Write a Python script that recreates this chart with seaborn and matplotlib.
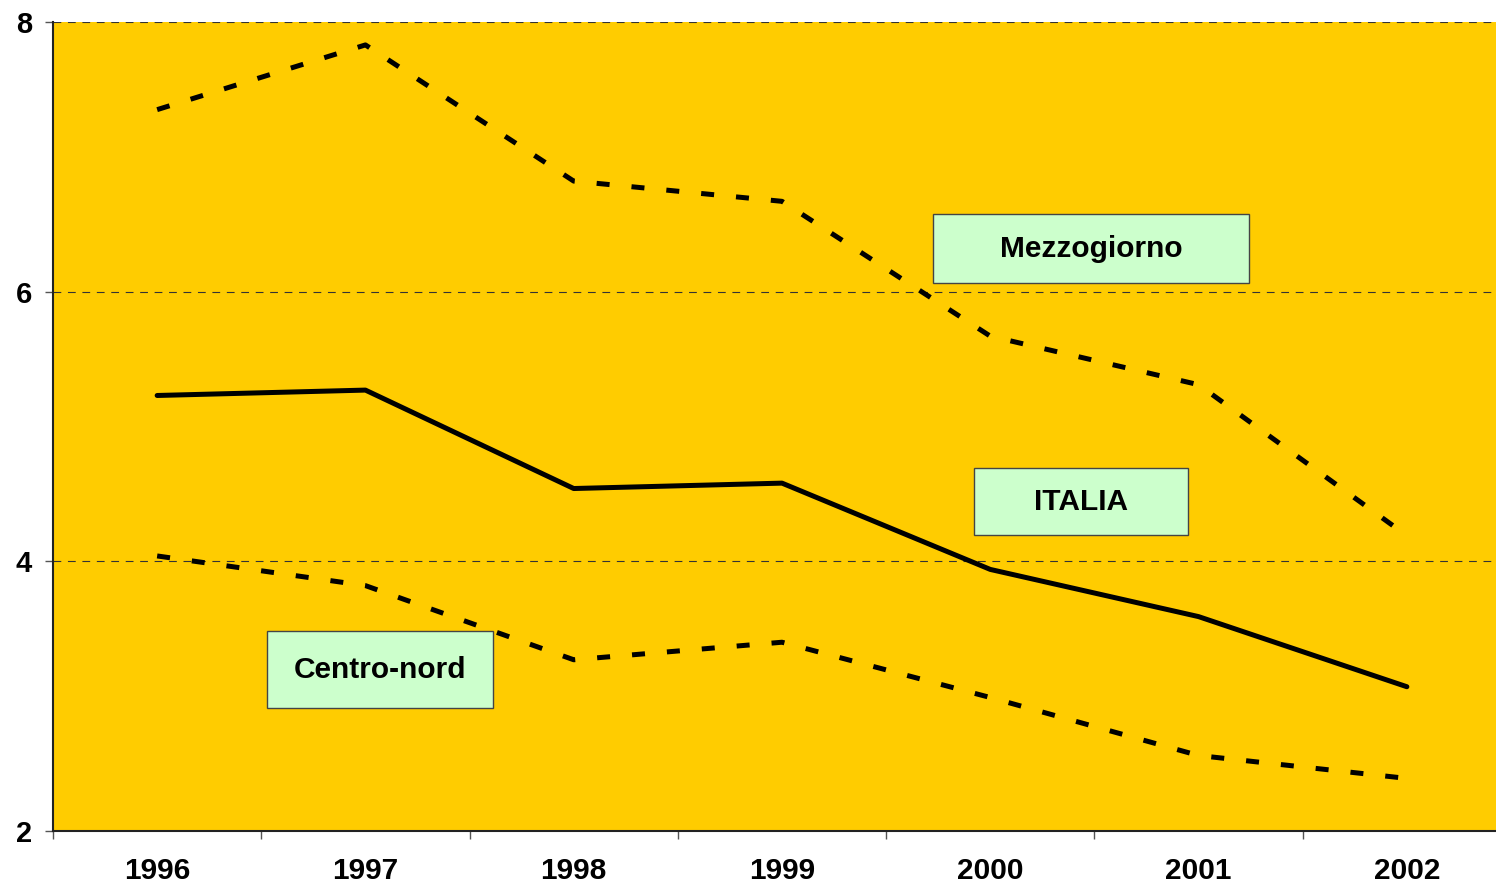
import numpy as np
import pandas as pd
import matplotlib
matplotlib.use("Agg")
import matplotlib.pyplot as plt
from matplotlib.patches import Rectangle
from matplotlib.ticker import FixedLocator
import seaborn as sns

# Data
years = ["1996", "1997", "1998", "1999", "2000", "2001", "2002"]
mezzogiorno = [7.35, 7.83, 6.82, 6.67, 5.67, 5.31, 4.19]
italia = [5.23, 5.27, 4.54, 4.58, 3.94, 3.59, 3.07]
centro_nord = [4.04, 3.82, 3.27, 3.40, 2.99, 2.56, 2.39]
series_names = ["Mezzogiorno", "ITALIA", "Centro-nord"]

df = pd.DataFrame({
    "x": list(range(len(years))) * 3,
    "value": mezzogiorno + italia + centro_nord,
    "serie": sum([[n] * len(years) for n in series_names], []),
})

sns.set_style("white")
plt.rcParams["font.family"] = ["Liberation Sans", "DejaVu Sans"]
plt.rcParams["text.color"] = "black"
plt.rcParams["xtick.color"] = "black"
plt.rcParams["ytick.color"] = "black"

fig = plt.figure(figsize=(14.96, 8.86), dpi=100)
ax = fig.add_axes([53 / 1496, 55 / 886, (1511 - 53) / 1496, 809 / 886])
ax.set_facecolor("#FFCC00")

# dashed horizontal gridlines
for yv in [4, 6, 8]:
    ax.axhline(yv, color="#333333", lw=0.8, linestyle=(0, (7, 6)), zorder=1)

sns.lineplot(
    data=df, x="x", y="value", style="serie", hue="serie",
    palette={n: "black" for n in series_names},
    dashes={"Mezzogiorno": (2.6, 4.4), "ITALIA": "", "Centro-nord": (2.6, 4.4)},
    linewidth=3.6, legend=False, ax=ax, zorder=3,
)
for line in ax.get_lines():
    line.set_solid_capstyle("round")

ax.set_xlim(-0.5, 6.5)
ax.set_ylim(2, 8)
ax.set_xlabel("")
ax.set_ylabel("")

ax.set_yticks([2, 4, 6, 8])
ax.set_yticklabels(["2", "4", "6", "8"], fontsize=21, fontweight="bold")
ax.tick_params(axis="y", direction="out", length=6, width=1, color="#555555",
               labelcolor="black", pad=9, left=True)

ax.set_xticks(range(len(years)))
ax.set_xticklabels(years, fontsize=21.5, fontweight="bold")
ax.tick_params(axis="x", which="major", length=0, pad=19, labelcolor="black")
ax.xaxis.set_minor_locator(FixedLocator(np.arange(-0.5, 7.0, 1.0)))
ax.tick_params(axis="x", which="minor", direction="out", length=6, width=1,
               color="#555555", bottom=True)

for side in ["top", "right"]:
    ax.spines[side].set_visible(False)
for side in ["left", "bottom"]:
    ax.spines[side].set_color("#222222")
    ax.spines[side].set_linewidth(1.5)

# series label boxes
boxes = [
    ("Mezzogiorno", 3.725, 6.064, 1.517, 0.512),
    ("ITALIA", 3.921, 4.194, 1.028, 0.497),
    ("Centro-nord", 0.527, 2.911, 1.085, 0.571),
]
for label, bx, by, bw, bh in boxes:
    ax.add_patch(Rectangle((bx, by), bw, bh, facecolor="#CCFFCC",
                           edgecolor="#444444", lw=1, zorder=4))
    ax.text(bx + bw / 2, by + bh / 2, label, ha="center", va="center",
            fontsize=21.5, fontweight="bold", color="black", zorder=5)

fig.savefig("out.png", dpi=100)
